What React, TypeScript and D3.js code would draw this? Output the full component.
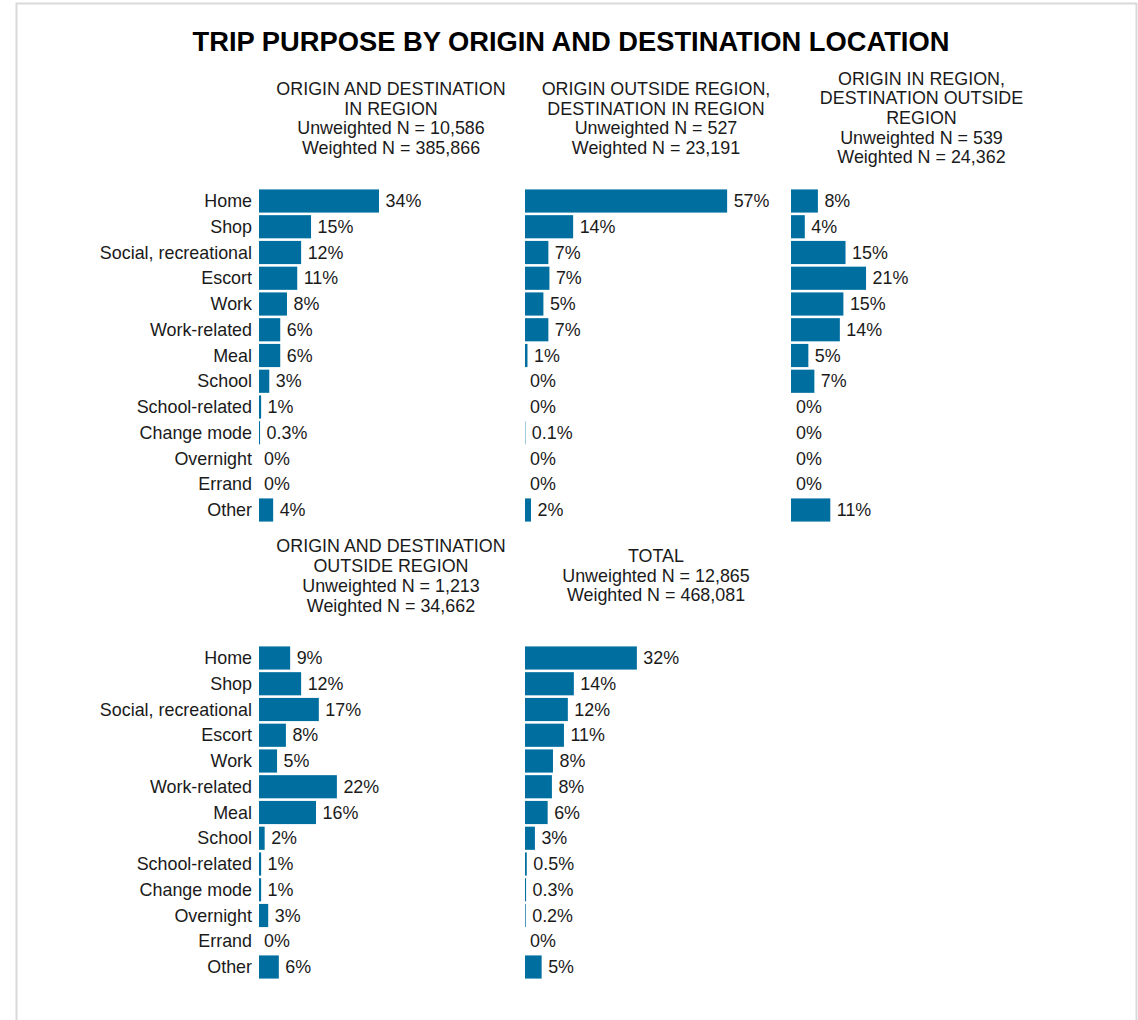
import React from "react";
import * as d3 from "d3";

const title = "TRIP PURPOSE BY ORIGIN AND DESTINATION LOCATION";

const categories = [
  "Home", "Shop", "Social, recreational", "Escort", "Work", "Work-related",
  "Meal", "School", "School-related", "Change mode", "Overnight", "Errand", "Other",
];

const inInValues = [33.9, 14.7, 11.9, 10.8, 7.9, 6.0, 6.0, 2.9, 0.6, 0.3, 0, 0, 4.0];
const inInLabels = ["34%", "15%", "12%", "11%", "8%", "6%", "6%", "3%", "1%", "0.3%", "0%", "0%", "4%"];

const outInValues = [57.1, 13.6, 6.6, 6.9, 5.2, 6.6, 0.7, 0, 0, 0.1, 0, 0, 1.7];
const outInLabels = ["57%", "14%", "7%", "7%", "5%", "7%", "1%", "0%", "0%", "0.1%", "0%", "0%", "2%"];

const inOutValues = [7.6, 3.9, 15.4, 21.2, 14.8, 13.8, 4.9, 6.6, 0, 0, 0, 0, 11.1];
const inOutLabels = ["8%", "4%", "15%", "21%", "15%", "14%", "5%", "7%", "0%", "0%", "0%", "0%", "11%"];

const outOutValues = [8.8, 11.9, 16.9, 7.6, 5.1, 22.0, 16.1, 1.6, 0.6, 0.6, 2.6, 0, 5.6];
const outOutLabels = ["9%", "12%", "17%", "8%", "5%", "22%", "16%", "2%", "1%", "1%", "3%", "0%", "6%"];

const totalValues = [31.6, 13.8, 12.1, 11.0, 7.9, 7.6, 6.4, 2.8, 0.5, 0.3, 0.2, 0, 4.7];
const totalLabels = ["32%", "14%", "12%", "11%", "8%", "8%", "6%", "3%", "0.5%", "0.3%", "0.2%", "0%", "5%"];

const header1 = ["ORIGIN AND DESTINATION", "IN REGION", "Unweighted N = 10,586", "Weighted N = 385,866"];
const header2 = ["ORIGIN OUTSIDE REGION,", "DESTINATION IN REGION", "Unweighted N = 527", "Weighted N = 23,191"];
const header3 = ["ORIGIN IN REGION,", "DESTINATION OUTSIDE", "REGION", "Unweighted N = 539", "Weighted N = 24,362"];
const header4 = ["ORIGIN AND DESTINATION", "OUTSIDE REGION", "Unweighted N = 1,213", "Weighted N = 34,662"];
const header5 = ["TOTAL", "Unweighted N = 12,865", "Weighted N = 468,081"];

const W = 1138;
const H = 1020;
const FONT = "'Liberation Sans', Arial, sans-serif";
const BAR = "#006fa0";
const TXT = "#1a1a1a";
const FS = 17.9;
const LH = 19.7;
const STEP = 25.75;

const x = d3.scaleLinear().domain([0, 60]).range([0, 212.4]);

type PanelProps = {
  x0: number;
  yFirst: number;
  headerCx: number;
  headerCy: number;
  header: string[];
  values: number[];
  labels: string[];
  showCats: boolean;
};

function Panel({ x0, yFirst, headerCx, headerCy, header, values, labels, showCats }: PanelProps) {
  const y = d3
    .scaleBand<string>()
    .domain(categories)
    .range([yFirst - STEP / 2, yFirst - STEP / 2 + STEP * categories.length])
    .paddingInner(0.1)
    .paddingOuter(0.05);
  const hTop = headerCy - ((header.length - 1) * LH) / 2;
  return (
    <g>
      {header.map((t, i) => (
        <text key={i} x={headerCx} y={hTop + i * LH} textAnchor="middle" dominantBaseline="central"
          fontSize={FS} fill={TXT}>{t}</text>
      ))}
      {categories.map((c, i) => {
        const yy = y(c)!;
        const w = x(values[i]);
        const cy = yy + y.bandwidth() / 2;
        return (
          <g key={c}>
            {showCats && (
              <text x={x0 - 7} y={cy} textAnchor="end" dominantBaseline="central" fontSize={FS} fill={TXT}>{c}</text>
            )}
            {values[i] > 0 && (
              <rect x={x0} y={yy} width={w} height={y.bandwidth()} fill={BAR} />
            )}
            <text x={x0 + (values[i] > 0 ? w + 6.5 : 5)} y={cy} dominantBaseline="central" fontSize={FS} fill={TXT}>{labels[i]}</text>
          </g>
        );
      })}
    </g>
  );
}

export default function App() {
  return (
    <svg width={W} height={H} style={{ position: "absolute", left: 0, top: 0, background: "#fff" }}
      fontFamily={FONT}>
      <rect x={0} y={0} width={W} height={H} fill="#fff" />
      <rect x={16.5} y={3.5} width={1120} height={1100} fill="none" stroke="#d9d9d9" strokeWidth={2} />
      <text x={571} y={41} textAnchor="middle" dominantBaseline="central" fontSize={27.3} fontWeight="bold" fill="#000">{title}</text>
      <Panel x0={259} yFirst={201} headerCx={391} headerCy={118.5} header={header1} values={inInValues} labels={inInLabels} showCats />
      <Panel x0={525} yFirst={201} headerCx={656} headerCy={118.5} header={header2} values={outInValues} labels={outInLabels} showCats={false} />
      <Panel x0={791} yFirst={201} headerCx={921.5} headerCy={118} header={header3} values={inOutValues} labels={inOutLabels} showCats={false} />
      <Panel x0={259} yFirst={658} headerCx={391} headerCy={576} header={header4} values={outOutValues} labels={outOutLabels} showCats />
      <Panel x0={525} yFirst={658} headerCx={656} headerCy={575.5} header={header5} values={totalValues} labels={totalLabels} showCats={false} />
    </svg>
  );
}
